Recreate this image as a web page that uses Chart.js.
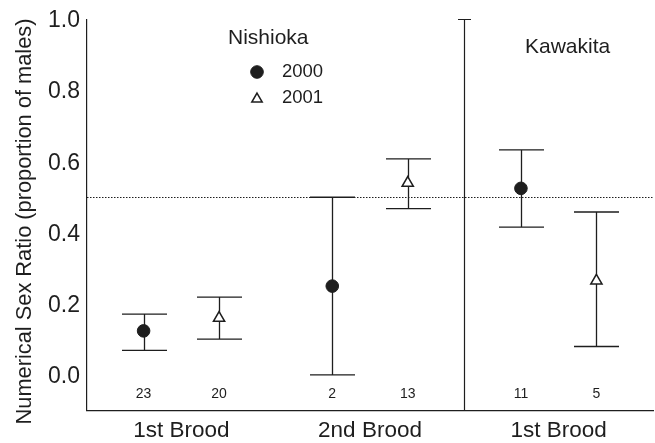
<!DOCTYPE html>
<html>
<head>
<meta charset="utf-8">
<script src="https://cdn.jsdelivr.net/npm/chart.js@4/dist/chart.umd.min.js"></script>
<style>
  html, body { margin: 0; padding: 0; background: #fff; }
  #wrap { width: 655px; height: 443px; }
</style>
</head>
<body>
<div id="wrap"><canvas id="c" width="655" height="443"></canvas></div>
<script>
// Brood groups along the x axis (Nishioka: 1st, 2nd brood; Kawakita: 1st brood)
const groupLabels = ['1st Brood', '2nd Brood', '1st Brood'];
const groupCenters = [0.5, 1.5, 2.5];

// Horizontal positions of the two survey years inside each group
const x2000 = [0.3, 1.3, 2.3];
const x2001 = [0.7, 1.7, 2.7];

// Proportion of males with lower / upper limits, and sample sizes
const mean2000 = [0.124, 0.25, 0.525];
const low2000  = [0.069, 0.0, 0.416];
const high2000 = [0.171, 0.50, 0.633];
const n2000    = [23, 2, 11];

const mean2001 = [0.16, 0.54, 0.265];
const low2001  = [0.101, 0.468, 0.08];
const high2001 = [0.219, 0.608, 0.4585];
const n2001    = [20, 13, 5];

const yTicks = [0, 0.2, 0.4, 0.6, 0.8, 1.0];
const parityRatio = 0.5;      // 1:1 sex ratio reference line
const siteBoundary = 2;       // separates Nishioka and Kawakita
const countLevel = -0.055;    // where sample sizes are written

const INK = '#1e1e1e';
const FONT = '"Liberation Sans", Arial, sans-serif';

function pts(xs, ys) { return xs.map((x, i) => ({ x: x, y: ys[i] })); }

const annotations = {
  id: 'annotations',
  beforeDatasetsDraw(chart) {
    const { ctx, chartArea: a, scales: { x, y } } = chart;
    ctx.save();
    ctx.strokeStyle = INK;

    // dotted 1:1 line
    ctx.lineWidth = 1;
    ctx.setLineDash([1.5, 1.5]);
    const py = Math.round(y.getPixelForValue(parityRatio)) + 0.5;
    ctx.beginPath();
    ctx.moveTo(a.left, py);
    ctx.lineTo(a.right, py);
    ctx.stroke();
    ctx.setLineDash([]);

    // site divider with a cap at the top
    const dx = Math.round(x.getPixelForValue(siteBoundary)) + 0.5;
    const dTop = y.getPixelForValue(1.0);
    ctx.lineWidth = 1.2;
    ctx.beginPath();
    ctx.moveTo(dx, dTop);
    ctx.lineTo(dx, a.bottom);
    ctx.moveTo(dx - 6.5, dTop);
    ctx.lineTo(dx + 6.5, dTop);
    ctx.stroke();

    // error bars
    const capHalf = 22.5;
    const drawBars = (xs, lo, hi) => {
      xs.forEach((xv, i) => {
        const px = Math.round(x.getPixelForValue(xv)) + 0.5;
        const pl = y.getPixelForValue(lo[i]);
        const ph = y.getPixelForValue(hi[i]);
        ctx.beginPath();
        ctx.moveTo(px, pl);
        ctx.lineTo(px, ph);
        ctx.moveTo(px - capHalf, ph);
        ctx.lineTo(px + capHalf, ph);
        ctx.moveTo(px - capHalf, pl);
        ctx.lineTo(px + capHalf, pl);
        ctx.stroke();
      });
    };
    ctx.lineWidth = 1.3;
    drawBars(x2000, low2000, high2000);
    drawBars(x2001, low2001, high2001);

    // sample sizes
    ctx.fillStyle = INK;
    ctx.font = '14px ' + FONT;
    ctx.textAlign = 'center';
    ctx.textBaseline = 'middle';
    const cy = y.getPixelForValue(countLevel);
    x2000.forEach((xv, i) => ctx.fillText(String(n2000[i]), x.getPixelForValue(xv), cy));
    x2001.forEach((xv, i) => ctx.fillText(String(n2001[i]), x.getPixelForValue(xv), cy));
    ctx.restore();
  },
  afterDraw(chart) {
    const { ctx } = chart;
    ctx.save();
    ctx.fillStyle = INK;
    ctx.textBaseline = 'middle';

    // axis title
    ctx.save();
    ctx.translate(25, 221.5);
    ctx.rotate(-Math.PI / 2);
    ctx.textAlign = 'center';
    ctx.font = '21.8px ' + FONT;
    ctx.fillText('Numerical Sex Ratio (proportion of males)', 0, 0);
    ctx.restore();

    // site names and year key
    ctx.textAlign = 'left';
    ctx.font = '21px ' + FONT;
    ctx.fillText('Nishioka', 228, 38);
    ctx.fillText('Kawakita', 525, 47);
    ctx.font = '18.5px ' + FONT;
    ctx.fillText('2000', 282, 72);
    ctx.fillText('2001', 282, 98);

    ctx.strokeStyle = INK;
    ctx.fillStyle = INK;
    ctx.lineWidth = 1;
    Chart.helpers.drawPoint(ctx, { pointStyle: 'circle', radius: 6.3, borderWidth: 1 }, 257, 72);
    ctx.fillStyle = '#fff';
    ctx.lineWidth = 1.5;
    Chart.helpers.drawPoint(ctx, { pointStyle: 'triangle', radius: 6, borderWidth: 1.5 }, 257, 99);
    ctx.restore();
  }
};

new Chart(document.getElementById('c'), {
  type: 'scatter',
  data: {
    datasets: [
      {
        label: '2000',
        data: pts(x2000, mean2000),
        pointStyle: 'circle',
        pointRadius: 6.3,
        backgroundColor: INK,
        borderColor: INK,
        borderWidth: 1
      },
      {
        label: '2001',
        data: pts(x2001, mean2001),
        pointStyle: 'triangle',
        pointRadius: 6.5,
        backgroundColor: '#fff',
        borderColor: INK,
        borderWidth: 1.5
      }
    ]
  },
  options: {
    responsive: false,
    animation: false,
    events: [],
    layout: { autoPadding: false, padding: { top: 19.5, right: 2, left: 0, bottom: 0 } },
    plugins: { legend: { display: false }, tooltip: { enabled: false } },
    scales: {
      x: {
        type: 'linear',
        min: 0,
        max: 3,
        afterBuildTicks: s => { s.ticks = groupCenters.map(v => ({ value: v })); },
        afterFit: s => { s.height = 32.5; s.paddingLeft = 0; s.paddingRight = 0; },
        grid: { display: false, drawTicks: false },
        border: { display: true, color: INK, width: 1.2 },
        ticks: {
          autoSkip: false,
          maxRotation: 0,
          padding: 7,
          color: INK,
          font: { family: FONT, size: 22.5 },
          callback: (v, i) => groupLabels[i]
        }
      },
      y: {
        min: -0.1,
        max: 1.0,
        afterBuildTicks: s => { s.ticks = yTicks.map(v => ({ value: v })); },
        afterFit: s => { s.width = 87; s.paddingTop = 0; s.paddingBottom = 0; },
        grid: { display: false, drawTicks: false },
        border: { display: true, color: INK, width: 1.2 },
        ticks: {
          padding: 7,
          labelOffset: 1.5,
          color: INK,
          font: { family: FONT, size: 23 },
          callback: v => Number(v).toFixed(1)
        }
      }
    }
  },
  plugins: [annotations]
});
</script>
</body>
</html>
